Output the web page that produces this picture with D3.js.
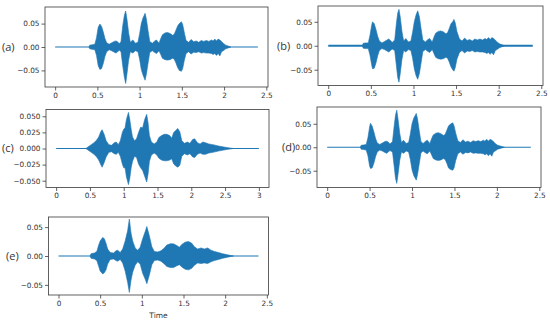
<!DOCTYPE html>
<html><head><meta charset="utf-8">
<script src="https://cdn.jsdelivr.net/npm/d3@7"></script>
<style>
html,body{margin:0;padding:0;background:#fff;}
svg{display:block;}
</style></head>
<body>
<svg id="chart" width="550" height="322"></svg>
<script>
// ---- data: waveform envelopes [time (s), upper, lower] ----
const waveA = [
 [0.40,0,0],[0.41,0.004,-0.004],[0.44,0.005,-0.005],[0.47,0.006,-0.006],[0.49,0.02,-0.018],
 [0.51,0.042,-0.04],[0.53,0.049,-0.048],[0.55,0.044,-0.046],[0.57,0.032,-0.035],[0.59,0.018,-0.02],
 [0.61,0.009,-0.01],[0.64,0.006,-0.006],[0.67,0.009,-0.008],[0.70,0.012,-0.011],[0.72,0.013,-0.013],
 [0.74,0.011,-0.01],[0.76,0.007,-0.007],[0.78,0.012,-0.01],[0.80,0.045,-0.04],[0.82,0.068,-0.065],
 [0.835,0.077,-0.078],[0.85,0.06,-0.058],[0.87,0.03,-0.028],[0.89,0.01,-0.01],[0.92,0.015,-0.013],
 [0.95,0.008,-0.008],[0.98,0.01,-0.01],[1.00,0.028,-0.026],[1.02,0.05,-0.048],[1.04,0.062,-0.06],
 [1.065,0.072,-0.071],[1.08,0.06,-0.058],[1.10,0.035,-0.035],[1.12,0.012,-0.012],[1.15,0.008,-0.008],
 [1.18,0.013,-0.012],[1.20,0.015,-0.014],[1.23,0.008,-0.008],[1.25,0.018,-0.016],[1.27,0.026,-0.024],
 [1.30,0.03,-0.027],[1.33,0.031,-0.028],[1.36,0.029,-0.027],[1.39,0.025,-0.024],[1.41,0.027,-0.026],
 [1.43,0.036,-0.034],[1.45,0.045,-0.044],[1.47,0.05,-0.05],[1.495,0.054,-0.052],[1.51,0.048,-0.046],
 [1.53,0.03,-0.028],[1.55,0.014,-0.014],[1.58,0.01,-0.01],[1.61,0.016,-0.015],[1.64,0.011,-0.011],
 [1.67,0.013,-0.012],[1.70,0.01,-0.01],[1.73,0.014,-0.013],[1.76,0.012,-0.012],[1.79,0.014,-0.013],
 [1.82,0.012,-0.013],[1.85,0.015,-0.014],[1.87,0.013,-0.016],[1.89,0.017,-0.014],[1.91,0.013,-0.018],
 [1.93,0.017,-0.014],[1.95,0.015,-0.019],[1.97,0.012,-0.01],[1.99,0.008,-0.008],[2.02,0.004,-0.004],
 [2.05,0.002,-0.002],[2.08,0,0]
];
const waveB = [
 [0.40,0,0],[0.41,0.005,-0.005],[0.44,0.006,-0.006],[0.47,0.006,-0.006],[0.49,0.022,-0.02],
 [0.51,0.043,-0.04],[0.52,0.05,-0.048],[0.54,0.046,-0.047],[0.56,0.034,-0.036],[0.58,0.02,-0.021],
 [0.60,0.01,-0.01],[0.63,0.006,-0.006],[0.66,0.009,-0.008],[0.69,0.012,-0.011],[0.71,0.014,-0.013],
 [0.73,0.011,-0.01],[0.75,0.007,-0.007],[0.78,0.012,-0.01],[0.80,0.047,-0.042],[0.815,0.068,-0.066],
 [0.83,0.076,-0.076],[0.845,0.06,-0.058],[0.865,0.03,-0.028],[0.885,0.01,-0.01],[0.91,0.015,-0.013],
 [0.94,0.008,-0.008],[0.97,0.01,-0.01],[0.99,0.028,-0.026],[1.01,0.05,-0.048],[1.03,0.064,-0.062],
 [1.05,0.073,-0.07],[1.07,0.06,-0.058],[1.09,0.035,-0.035],[1.11,0.012,-0.012],[1.14,0.008,-0.008],
 [1.17,0.013,-0.012],[1.19,0.015,-0.014],[1.22,0.008,-0.008],[1.24,0.018,-0.016],[1.26,0.026,-0.024],
 [1.29,0.03,-0.027],[1.32,0.031,-0.028],[1.35,0.029,-0.027],[1.38,0.025,-0.024],[1.40,0.027,-0.026],
 [1.42,0.036,-0.034],[1.44,0.046,-0.044],[1.46,0.05,-0.05],[1.475,0.055,-0.053],[1.49,0.048,-0.046],
 [1.51,0.03,-0.028],[1.54,0.014,-0.014],[1.57,0.01,-0.01],[1.60,0.016,-0.015],[1.63,0.011,-0.011],
 [1.66,0.013,-0.012],[1.69,0.01,-0.01],[1.72,0.014,-0.013],[1.75,0.012,-0.012],[1.78,0.014,-0.013],
 [1.81,0.012,-0.013],[1.84,0.015,-0.014],[1.86,0.013,-0.016],[1.88,0.017,-0.014],[1.90,0.013,-0.018],
 [1.92,0.017,-0.014],[1.94,0.015,-0.019],[1.96,0.012,-0.01],[1.98,0.008,-0.008],[2.01,0.004,-0.004],
 [2.04,0.002,-0.002],[2.07,0,0]
];
const waveC = [
 [0.44,0,0],[0.48,0.003,-0.003],[0.52,0.006,-0.006],[0.56,0.009,-0.009],[0.60,0.013,-0.013],
 [0.63,0.018,-0.018],[0.66,0.026,-0.025],[0.68,0.029,-0.029],[0.71,0.022,-0.022],[0.74,0.012,-0.013],
 [0.78,0.006,-0.006],[0.82,0.005,-0.005],[0.86,0.009,-0.008],[0.89,0.01,-0.009],[0.92,0.006,-0.006],
 [0.95,0.012,-0.012],[0.98,0.025,-0.024],[1.00,0.03,-0.03],[1.02,0.032,-0.03],[1.04,0.045,-0.044],
 [1.07,0.056,-0.056],[1.09,0.045,-0.046],[1.11,0.03,-0.03],[1.13,0.018,-0.02],[1.16,0.012,-0.012],
 [1.19,0.015,-0.014],[1.22,0.025,-0.024],[1.25,0.033,-0.03],[1.28,0.032,-0.034],[1.31,0.045,-0.043],
 [1.34,0.053,-0.052],[1.36,0.04,-0.04],[1.38,0.02,-0.02],[1.41,0.01,-0.01],[1.45,0.007,-0.007],
 [1.49,0.01,-0.01],[1.52,0.017,-0.015],[1.56,0.02,-0.018],[1.60,0.022,-0.019],[1.64,0.022,-0.019],
 [1.68,0.02,-0.018],[1.71,0.016,-0.016],[1.74,0.025,-0.024],[1.77,0.028,-0.027],[1.80,0.031,-0.029],
 [1.83,0.026,-0.026],[1.86,0.012,-0.012],[1.90,0.008,-0.008],[1.94,0.01,-0.01],[1.98,0.008,-0.008],
 [2.02,0.014,-0.013],[2.05,0.015,-0.014],[2.09,0.009,-0.009],[2.13,0.007,-0.007],[2.17,0.01,-0.009],
 [2.21,0.009,-0.009],[2.26,0.007,-0.007],[2.32,0.006,-0.006],[2.40,0.004,-0.004],[2.50,0.002,-0.002],
 [2.62,0,0]
];
const waveD = [
 [0.39,0,0],[0.40,0.004,-0.004],[0.43,0.005,-0.005],[0.46,0.006,-0.006],[0.48,0.02,-0.018],
 [0.50,0.043,-0.04],[0.51,0.051,-0.045],[0.53,0.045,-0.044],[0.55,0.033,-0.034],[0.57,0.019,-0.02],
 [0.59,0.009,-0.01],[0.62,0.006,-0.006],[0.65,0.009,-0.008],[0.68,0.012,-0.011],[0.70,0.013,-0.013],
 [0.72,0.011,-0.01],[0.74,0.007,-0.007],[0.77,0.012,-0.01],[0.79,0.046,-0.041],[0.805,0.068,-0.066],
 [0.82,0.079,-0.077],[0.835,0.06,-0.058],[0.855,0.03,-0.028],[0.875,0.01,-0.01],[0.90,0.015,-0.013],
 [0.93,0.008,-0.008],[0.96,0.01,-0.01],[0.98,0.028,-0.026],[1.00,0.05,-0.048],[1.02,0.062,-0.06],
 [1.05,0.072,-0.07],[1.065,0.06,-0.058],[1.085,0.035,-0.035],[1.105,0.012,-0.012],[1.13,0.008,-0.008],
 [1.16,0.013,-0.012],[1.18,0.015,-0.014],[1.21,0.008,-0.008],[1.23,0.018,-0.016],[1.25,0.026,-0.024],
 [1.28,0.03,-0.027],[1.31,0.031,-0.028],[1.34,0.029,-0.027],[1.37,0.025,-0.024],[1.39,0.027,-0.026],
 [1.41,0.036,-0.034],[1.43,0.045,-0.044],[1.45,0.049,-0.047],[1.48,0.052,-0.049],[1.495,0.046,-0.044],
 [1.515,0.03,-0.028],[1.54,0.014,-0.014],[1.57,0.01,-0.01],[1.60,0.016,-0.015],[1.63,0.011,-0.011],
 [1.66,0.013,-0.012],[1.69,0.01,-0.01],[1.72,0.014,-0.013],[1.75,0.012,-0.012],[1.78,0.014,-0.013],
 [1.81,0.012,-0.013],[1.84,0.015,-0.014],[1.86,0.013,-0.016],[1.88,0.017,-0.014],[1.90,0.013,-0.018],
 [1.92,0.017,-0.014],[1.94,0.015,-0.019],[1.96,0.012,-0.01],[1.98,0.008,-0.008],[2.01,0.004,-0.004],
 [2.05,0.002,-0.002],[2.09,0,0]
];
const waveE = [
 [0.38,0,0],[0.39,0.004,-0.004],[0.43,0.005,-0.005],[0.46,0.008,-0.008],[0.48,0.018,-0.017],
 [0.50,0.026,-0.026],[0.53,0.032,-0.031],[0.55,0.03,-0.029],[0.57,0.022,-0.024],[0.59,0.012,-0.014],
 [0.62,0.006,-0.006],[0.66,0.005,-0.005],[0.69,0.009,-0.008],[0.71,0.01,-0.009],[0.74,0.006,-0.006],
 [0.77,0.012,-0.012],[0.80,0.026,-0.026],[0.83,0.044,-0.046],[0.85,0.064,-0.063],[0.87,0.04,-0.042],
 [0.89,0.026,-0.028],[0.92,0.014,-0.016],[0.95,0.01,-0.01],[0.98,0.015,-0.014],[1.01,0.03,-0.03],
 [1.04,0.042,-0.04],[1.06,0.051,-0.048],[1.09,0.035,-0.033],[1.12,0.016,-0.015],[1.15,0.008,-0.008],
 [1.19,0.007,-0.007],[1.23,0.009,-0.009],[1.27,0.014,-0.014],[1.30,0.019,-0.018],[1.34,0.021,-0.02],
 [1.38,0.021,-0.02],[1.42,0.018,-0.017],[1.45,0.015,-0.015],[1.48,0.02,-0.019],[1.52,0.024,-0.023],
 [1.56,0.025,-0.024],[1.60,0.022,-0.021],[1.63,0.016,-0.016],[1.67,0.012,-0.012],[1.71,0.014,-0.013],
 [1.75,0.012,-0.012],[1.79,0.014,-0.013],[1.83,0.01,-0.01],[1.87,0.008,-0.008],[1.92,0.006,-0.006],
 [1.97,0.004,-0.004],[2.03,0.002,-0.002],[2.10,0,0]
];
const durations = {a: 2.4, b: 2.4, c: 3.0, d: 2.4, e: 2.4};
const panelLabels = ["(a)", "(b)", "(c)", "(d)", "(e)"];
const xTicks25 = [0, 0.5, 1, 1.5, 2, 2.5];
const xTickLabels25 = ["0", "0.5", "1", "1.5", "2", "2.5"];
const xTicks3 = [0, 0.5, 1, 1.5, 2, 2.5, 3];
const xTickLabels3 = ["0", "0.5", "1", "1.5", "2", "2.5", "3"];
const yTicks05 = [-0.05, 0, 0.05];
const yTickLabels05 = ["\u22120.05", "0.00", "0.05"];
const yTicks025 = [-0.05, -0.025, 0, 0.025, 0.05];
const yTickLabels025 = ["\u22120.050", "\u22120.025", "0.000", "0.025", "0.050"];
const xAxisTitle = "Time";

// ---- layout ----
const layout = [
 {id:"a", wave:waveA, box:[45,7,268,87], yMax:0.0855, xt:xTicks25, xl:xTickLabels25, yt:yTicks05, yl:yTickLabels05, lx:2, base:1.2},
 {id:"b", wave:waveB, box:[318,6,543,85.5], yMax:0.083, xt:xTicks25, xl:xTickLabels25, yt:yTicks05, yl:yTickLabels05, lx:277, base:2.2},
 {id:"c", wave:waveC, box:[46,109.5,269,187.5], yMax:0.0605, xt:xTicks3, xl:xTickLabels3, yt:yTicks025, yl:yTickLabels025, lx:2, base:1.2},
 {id:"d", wave:waveD, box:[317,107,541,187.5], yMax:0.0857, xt:xTicks25, xl:xTickLabels25, yt:yTicks05, yl:yTickLabels05, lx:282, base:1.2},
 {id:"e", wave:waveE, box:[48.5,217,268.5,295], yMax:0.0675, xt:xTicks25, xl:xTickLabels25, yt:yTicks05, yl:yTickLabels05, lx:6, base:1.2, title:true}
];
const color = "#1f77b4";
const axisColor = "#3a3a3a";
const font = "DejaVu Sans, sans-serif";

const svg = d3.select("#chart");

layout.forEach((p, i) => {
  const [L, T, R, B] = p.box;
  const dur = durations[p.id];
  const x = d3.scaleLinear().domain([-0.05 * dur, 1.05 * dur]).range([L, R]);
  const y = d3.scaleLinear().domain([-p.yMax, p.yMax]).range([B, T]);
  const g = svg.append("g");

  // baseline (silence)
  g.append("line")
    .attr("x1", x(0)).attr("x2", x(dur))
    .attr("y1", y(0)).attr("y2", y(0))
    .attr("stroke", color).attr("stroke-width", p.base);

  // waveform envelope
  const area = d3.area()
    .x(d => x(d[0]))
    .y0(d => y(d[2]))
    .y1(d => y(d[1]))
    .curve(d3.curveLinear);
  g.append("path").datum(p.wave)
    .attr("d", area)
    .attr("fill", color)
    .attr("stroke", color).attr("stroke-width", 0.6);

  // x axis
  const xAxis = d3.axisBottom(x).tickValues(p.xt)
    .tickFormat((d, k) => p.xl[k]).tickSize(3.5).tickPadding(2);
  const gx = g.append("g").attr("transform", `translate(0,${B})`).call(xAxis);
  // y axis
  const yAxis = d3.axisLeft(y).tickValues(p.yt)
    .tickFormat((d, k) => p.yl[k]).tickSize(3.5).tickPadding(2);
  const gy = g.append("g").attr("transform", `translate(${L},0)`).call(yAxis);
  [gx, gy].forEach(ax => {
    ax.select(".domain").remove();
    ax.selectAll(".tick line").attr("stroke", axisColor).attr("stroke-width", 0.8);
    ax.selectAll(".tick text").attr("fill", "#333").style("font-family", font).style("font-size", "7.3px");
  });

  // frame
  g.append("rect").attr("x", L).attr("y", T).attr("width", R - L).attr("height", B - T)
    .attr("fill", "none").attr("stroke", axisColor).attr("stroke-width", 0.8);

  // panel label
  g.append("text").attr("x", p.lx).attr("y", y(0))
    .attr("dy", "0.35em")
    .attr("fill", "#333")
    .style("font-family", "Open Sans, sans-serif").style("font-size", "11px")
    .text(panelLabels[i]);

  if (p.title) {
    g.append("text").attr("x", (L + R) / 2).attr("y", B + 23)
      .attr("text-anchor", "middle").attr("fill", "#333")
      .style("font-family", font).style("font-size", "7.5px")
      .text(xAxisTitle);
  }
});
</script>
</body></html>
